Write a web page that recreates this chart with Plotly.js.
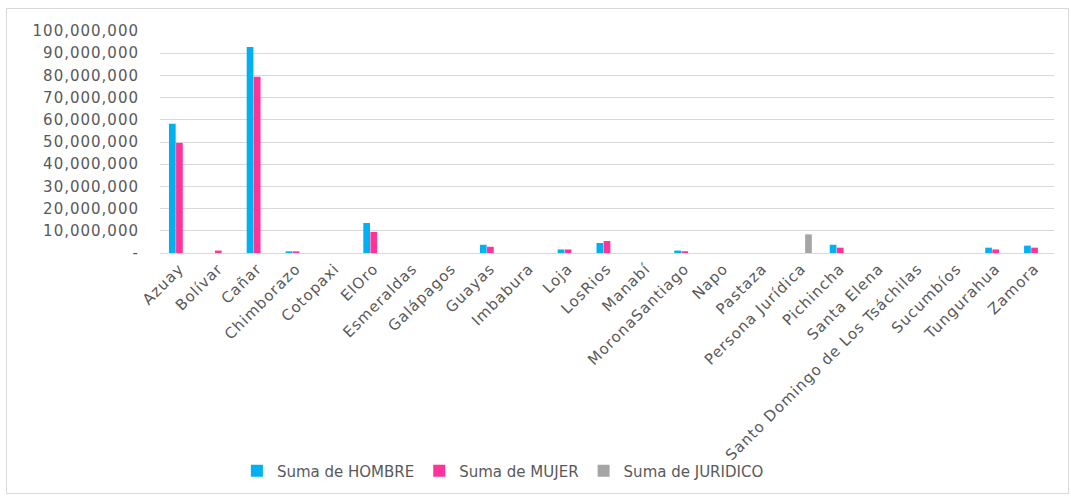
<!DOCTYPE html>
<html>
<head>
<meta charset="utf-8">
<script src="https://cdn.plot.ly/plotly-3.0.1.min.js"></script>
<style>
html,body{margin:0;padding:0;background:#fff;}
#wrap{position:relative;width:1071px;height:498px;}
#chart{position:absolute;left:0;top:0;width:1071px;height:498px;}
#frame{position:absolute;left:6px;top:8px;width:1061px;height:484px;border:1px solid #d9d9d9;pointer-events:none;}
#chart .xtick text, #chart .ytick text{letter-spacing:1px;}
</style>
</head>
<body>
<div id="wrap"><div id="chart"></div><div id="frame"></div></div>
<script>
const categories = ["Azuay","Bolívar","Cañar","Chimborazo","Cotopaxi","ElOro","Esmeraldas","Galápagos","Guayas","Imbabura","Loja","LosRios","Manabí","MoronaSantiago","Napo","Pastaza","Persona Jurídica","Pichincha","Santa Elena","Santo Domingo de Los Tsáchilas","Sucumbíos","Tungurahua","Zamora"];
const hombre = [58200000,0,92800000,750000,0,13500000,0,0,3700000,0,1600000,4500000,0,1100000,0,0,0,3700000,0,0,0,2400000,3300000];
const mujer  = [49600000,1100000,79400000,750000,0,9500000,0,0,2800000,0,1600000,5400000,0,800000,0,0,0,2400000,0,0,0,1600000,2400000];
const juridico = [0,0,0,0,0,0,0,0,0,0,0,0,0,0,0,0,8400000,0,0,0,0,0,0];
const seriesNames = ["Suma de HOMBRE","Suma de MUJER","Suma de JURIDICO"];
const yTickVals = [0,10000000,20000000,30000000,40000000,50000000,60000000,70000000,80000000,90000000,100000000];
const yTickText = ["-","10,000,000","20,000,000","30,000,000","40,000,000","50,000,000","60,000,000","70,000,000","80,000,000","90,000,000","100,000,000"];

const fontFam = "DejaVu Sans, Open Sans, sans-serif";
const gray = "#595959";
const traces = [
  {type:"bar", name:seriesNames[0], x:categories, y:hombre, marker:{color:"#00B0F0"}},
  {type:"bar", name:seriesNames[1], x:categories, y:mujer, marker:{color:"#FF3399"}},
  {type:"bar", name:seriesNames[2], x:categories, y:juridico, marker:{color:"#A5A5A5"}}
];
const layout = {
  width:1071, height:498,
  margin:{l:160, r:17, t:31, b:244, pad:0},
  paper_bgcolor:"rgba(0,0,0,0)", plot_bgcolor:"#fff",
  barmode:"group", bargap:0.45, bargroupgap:0.06,
  font:{family:fontFam, color:gray, size:15},
  showlegend:true,
  legend:{orientation:"h", x:0.086, xanchor:"left", y:-0.973, yanchor:"middle",
          font:{family:fontFam, size:15, color:gray},
          itemwidth:30, traceorder:"normal"},
  xaxis:{type:"category", tickangle:-45, showgrid:false, showline:true, linecolor:"#d9d9d9", linewidth:1,
         ticks:"", tickfont:{family:fontFam, size:15, color:gray}, automargin:false},
  yaxis:{range:[0,100000000], tickvals:yTickVals, ticktext:yTickText, showgrid:true, gridcolor:"#d9d9d9",
         gridwidth:1, zeroline:true, zerolinecolor:"#d9d9d9", showline:false, ticks:"", ticklen:0,
         ticklabelstandoff:20,
         tickfont:{family:fontFam, size:15, color:gray}, automargin:false}
};
Plotly.newPlot("chart", traces, layout, {displayModeBar:false, staticPlot:true});
</script>
</body>
</html>
